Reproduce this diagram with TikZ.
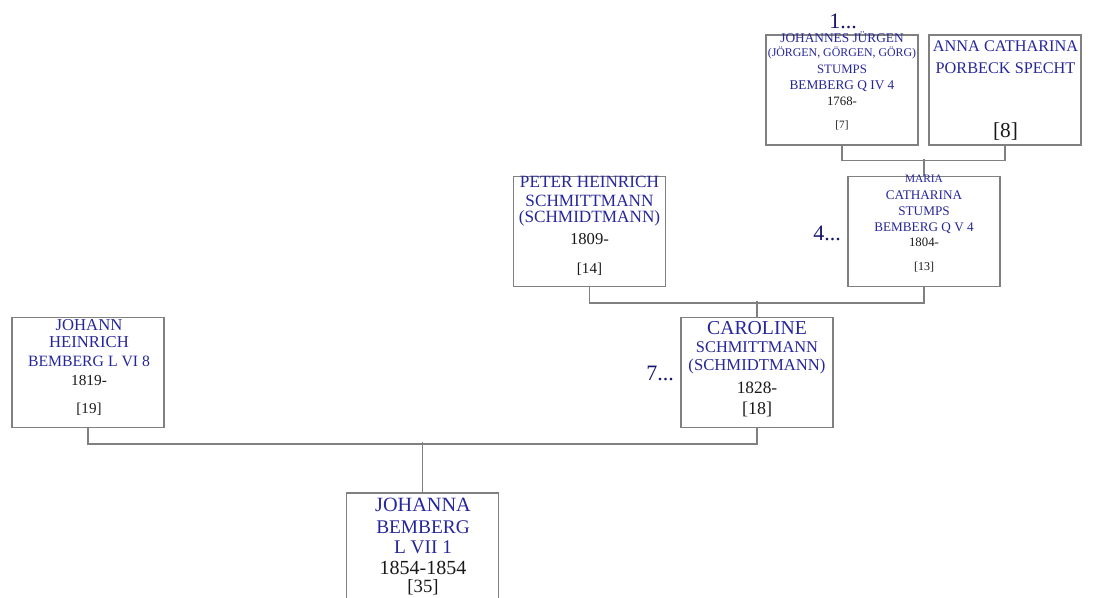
\documentclass[tikz,border=0pt]{standalone}
\usepackage{fontspec}
\setmainfont{Liberation Serif}
\usepackage{xcolor}
\usepackage{tikz}

\definecolor{nameblue}{RGB}{38,38,155}
\definecolor{gennavy}{RGB}{22,22,110}
\definecolor{linegray}{RGB}{128,128,128}
\definecolor{yearblack}{RGB}{25,25,25}

\tikzset{
  person/.style={draw=linegray, line width=1pt, minimum width=114pt,
    minimum height=82.5pt, inner sep=0pt},
  conn/.style={draw=linegray, line width=1pt},
  gen/.style={text=gennavy, anchor=base, inner sep=0pt,
    font=\fontsize{16.5}{16.5}\selectfont},
}

\begin{document}
\begin{tikzpicture}[x=0.75pt, y=-0.75pt]
        \useasboundingbox (0,0) rectangle (1093,598);
        \node[person] (jj) at (842,90) {};
        \node[person] (ac) at (1005,90) {};
        \node[person] (mc) at (924,231.5) {};
        \node[person] (ph) at (589.5,231.5) {};
        \node[person] (ca) at (757,372.5) {};
        \node[person] (jh) at (88,372.5) {};
        \node[person] (jo) at (422.5,548) {};
        \draw[conn] (jj.south) -- ++(0,15) -| (ac.south);
        \draw[conn] (mc.north) -- ++(0,-17);
        \draw[conn] (ph.south) -- ++(0,16) -| (mc.south);
        \draw[conn] (ca.north) -- ++(0,-16);
        \draw[conn] (jh.south) -- ++(0,16) -| (ca.south);
        \draw[conn] (jo.north) -- ++(0,-50);
        \foreach \txt/\yy/\sz/\col [count=\i] in
        {{JOHANNES JÜRGEN}/43/10/nameblue, {(JÖRGEN, GÖRGEN, GÖRG)}/57/8.9/nameblue,
        STUMPS/74/9.6/nameblue, {BEMBERG Q IV 4}/90/10/nameblue,
        1768-/106/9.6/yearblack, [7]/129/8.4/yearblack}
        \node[anchor=base, inner sep=0pt, text=\col,
        font=\fontsize{\sz}{\sz}\selectfont] (jj-\i) at (842,\yy) {\txt};
        \foreach \txt/\yy/\sz/\col [count=\i] in
        {{ANNA CATHARINA}/52/12.2/nameblue, {PORBECK SPECHT}/74/12.2/nameblue,
        [8]/138/16/yearblack}
        \node[anchor=base, inner sep=0pt, text=\col,
        font=\fontsize{\sz}{\sz}\selectfont] (ac-\i) at (1005.5,\yy) {\txt};
        \foreach \txt/\yy/\sz/\col [count=\i] in
        {MARIA/183/8.5/nameblue, CATHARINA/200/9.9/nameblue,
        STUMPS/216/9.9/nameblue, {BEMBERG Q V 4}/232/9.9/nameblue,
        1804-/247/9.6/yearblack, [13]/271/9/yearblack}
        \node[anchor=base, inner sep=0pt, text=\col,
        font=\fontsize{\sz}{\sz}\selectfont] (mc-\i) at (924,\yy) {\txt};
        \foreach \txt/\yy/\sz/\col [count=\i] in
        {{PETER HEINRICH}/188/12.9/nameblue, SCHMITTMANN/207/12.9/nameblue,
        (SCHMIDTMANN)/223/12.9/nameblue,
        1809-/245/12.5/yearblack, [14]/274/11.3/yearblack}
        \node[anchor=base, inner sep=0pt, text=\col,
        font=\fontsize{\sz}{\sz}\selectfont] (ph-\i) at (589.5,\yy) {\txt};
        \foreach \txt/\yy/\sz/\col [count=\i] in
        {CAROLINE/335/14.8/nameblue, SCHMITTMANN/353/12.3/nameblue,
        (SCHMIDTMANN)/371/12.5/nameblue,
        1828-/394/13/yearblack, [18]/415/13.5/yearblack}
        \node[anchor=base, inner sep=0pt, text=\col,
        font=\fontsize{\sz}{\sz}\selectfont] (ca-\i) at (757,\yy) {\txt};
        \foreach \txt/\yy/\sz/\col [count=\i] in
        {JOHANN/331/12.5/nameblue, HEINRICH/348/12.5/nameblue,
        {BEMBERG L VI 8}/367/11.8/nameblue,
        1819-/386/11.5/yearblack, [19]/414/11.3/yearblack}
        \node[anchor=base, inner sep=0pt, text=\col,
        font=\fontsize{\sz}{\sz}\selectfont] (jh-\i) at (89,\yy) {\txt};
        \foreach \txt/\yy/\sz/\col [count=\i] in
        {JOHANNA/512/15.2/nameblue, BEMBERG/533/14.5/nameblue,
        {L VII 1}/554/14.5/nameblue,
        1854-1854/575/15/yearblack, [35]/592/14/yearblack}
        \node[anchor=base, inner sep=0pt, text=\col,
        font=\fontsize{\sz}{\sz}\selectfont] (jo-\i) at (423,\yy) {\txt};
        \node[gen] (g1) at (843,29) {1...};
        \node[gen] (g4) at (827,241) {4...};
        \node[gen] (g7) at (660,381) {7...};
\end{tikzpicture}
\end{document}
